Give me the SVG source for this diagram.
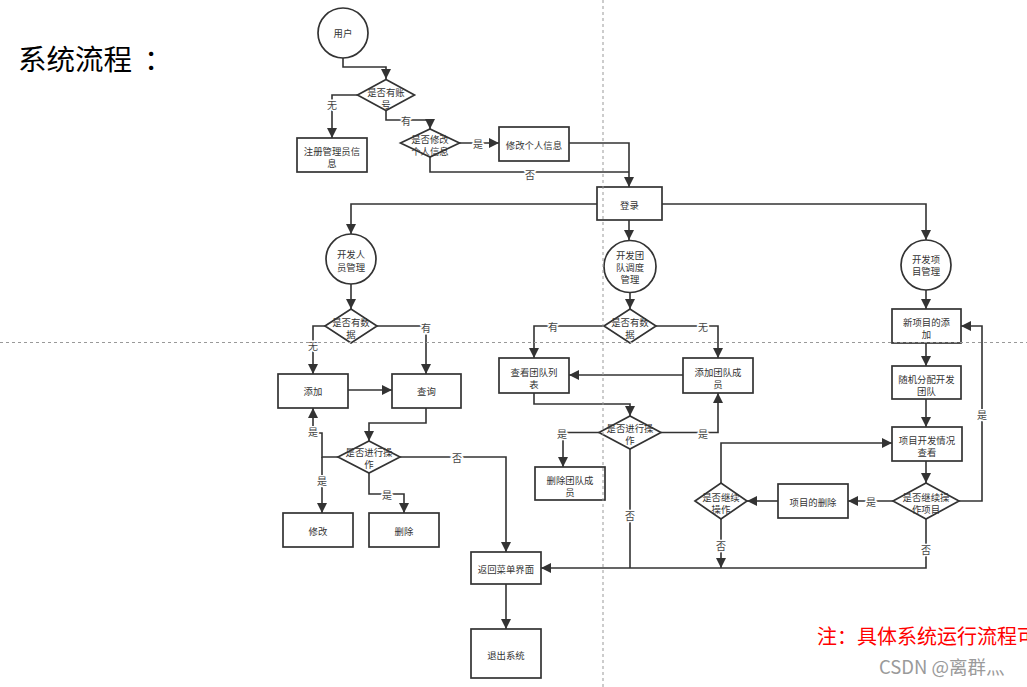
<svg xmlns="http://www.w3.org/2000/svg" width="1027" height="687" viewBox="0 0 1027 687">
<style>
  .box{fill:#fff;stroke:#333;stroke-width:1.7}
  .nd text{font-family:"Noto Sans CJK SC","Noto Sans",sans-serif;font-size:9.4px;fill:#333;text-anchor:middle;dominant-baseline:central}
  .ln{fill:none;stroke:#333;stroke-width:1.6}
  .arr{marker-end:url(#ah)}
  .lbl{font-family:"Noto Sans CJK SC","Noto Sans",sans-serif;font-size:10px;fill:#444;text-anchor:middle;dominant-baseline:central;stroke:#fff;stroke-width:3px;paint-order:stroke}
  .guide{stroke:#999;stroke-width:1;stroke-dasharray:3 3;fill:none}
</style>
<defs>
  <marker id="ah" viewBox="0 0 10 10" refX="10" refY="5" markerWidth="10" markerHeight="10" markerUnits="userSpaceOnUse" orient="auto">
    <path d="M0,0 L10,5 L0,10 z" fill="#333"/>
  </marker>
</defs>
<rect width="1027" height="687" fill="#fff"/>

<text x="18" y="69.5" font-family="'Noto Sans CJK SC',sans-serif" font-size="28.5" fill="#000">系统流程<tspan x="144">：</tspan></text>

<g id="connectors">
  <path class="ln arr" d="M343,58 V67 H386 V79"/>
  <path class="ln arr" d="M358,95 H332 V138"/>
  <path class="ln arr" d="M386,110 V120 H430 V129"/>
  <path class="ln arr" d="M459,143 H499"/>
  <path class="ln arr" d="M569,143 H629 V187"/>
  <path class="ln" d="M430,157 V172 H629"/>
  <path class="ln arr" d="M597,204 H351 V234"/>
  <path class="ln arr" d="M629,220 V240"/>
  <path class="ln arr" d="M662,204 H926 V240"/>
  <path class="ln arr" d="M351,284 V309"/>
  <path class="ln arr" d="M325,326 H313 V374"/>
  <path class="ln arr" d="M377,326 H426 V374"/>
  <path class="ln arr" d="M348,390 H392"/>
  <path class="ln arr" d="M426,408 V423 H369 V441"/>
  <path class="ln arr" d="M338,457 H322 V433 H313 V408"/>
  <path class="ln arr" d="M322,457 V513"/>
  <path class="ln arr" d="M369,473 V494 H404 V513"/>
  <path class="ln arr" d="M400,457 H506 V552"/>
  <path class="ln arr" d="M506,584 V629"/>
  <path class="ln arr" d="M630,293 V309"/>
  <path class="ln arr" d="M604,326 H534 V358"/>
  <path class="ln arr" d="M656,326 H718 V358"/>
  <path class="ln arr" d="M683,375 H569"/>
  <path class="ln arr" d="M534,393 V404 H630 V416"/>
  <path class="ln arr" d="M599,432.5 H563 V467"/>
  <path class="ln arr" d="M661,432.5 H718 V393"/>
  <path class="ln" d="M630,449 V568"/>
  <path class="ln arr" d="M926,290 V309"/>
  <path class="ln arr" d="M926,343 V366"/>
  <path class="ln arr" d="M926,399 V427"/>
  <path class="ln arr" d="M926,461 V483"/>
  <path class="ln arr" d="M959,501 H982 V326 H961"/>
  <path class="ln arr" d="M893,501 H848"/>
  <path class="ln arr" d="M778,501 H747"/>
  <path class="ln arr" d="M721,483 V443 H892"/>
  <path class="ln arr" d="M721,519 V568"/>
  <path class="ln arr" d="M926,519 V568 H541"/>
  <text class="lbl" x="332" y="104">无</text>
  <text class="lbl" x="406" y="120">有</text>
  <text class="lbl" x="478" y="143">是</text>
  <text class="lbl" x="530" y="174">否</text>
  <text class="lbl" x="313" y="345">无</text>
  <text class="lbl" x="426" y="327">有</text>
  <text class="lbl" x="313" y="431">是</text>
  <text class="lbl" x="322" y="480">是</text>
  <text class="lbl" x="387" y="494">是</text>
  <text class="lbl" x="457" y="457">否</text>
  <text class="lbl" x="553" y="326">有</text>
  <text class="lbl" x="703" y="326">无</text>
  <text class="lbl" x="562" y="433">是</text>
  <text class="lbl" x="703" y="433">是</text>
  <text class="lbl" x="630" y="515">否</text>
  <text class="lbl" x="982" y="414">是</text>
  <text class="lbl" x="871" y="501">是</text>
  <text class="lbl" x="721" y="545">否</text>
  <text class="lbl" x="926" y="549">否</text>
</g>

<g id="n-user" class="nd"><circle class="box" cx="343" cy="33" r="25"/><text x="343" y="33">用户</text></g>
<g id="n-has-account" class="nd"><polygon class="box" points="357.5,95 386,79.5 414.5,95 386,110.5"/><text x="386" y="92">是否有账</text><text x="386" y="104">号</text></g>
<g id="n-register" class="nd"><rect class="box" x="297" y="138" width="70" height="34"/><text x="332" y="151">注册管理员信</text><text x="332" y="163">息</text></g>
<g id="n-modify-q" class="nd"><polygon class="box" points="400.5,143 430,129 459.5,143 430,157"/><text x="430" y="139">是否修改</text><text x="430" y="151">个人信息</text></g>
<g id="n-modify" class="nd"><rect class="box" x="499" y="127" width="70" height="34"/><text x="534" y="144.5">修改个人信息</text></g>
<g id="n-login" class="nd"><rect class="box" x="597" y="187" width="65" height="33"/><text x="629.5" y="205">登录</text></g>

<g id="n-dev" class="nd"><circle class="box" cx="351" cy="259" r="25"/><text x="351" y="254">开发人</text><text x="351" y="267">员管理</text></g>
<g id="n-dev-data" class="nd"><polygon class="box" points="325,326 351,309 377,326 351,343"/><text x="351" y="322">是否有数</text><text x="351" y="334">据</text></g>
<g id="n-add" class="nd"><rect class="box" x="278" y="374" width="70" height="34"/><text x="313" y="391">添加</text></g>
<g id="n-query" class="nd"><rect class="box" x="392" y="374" width="69" height="34"/><text x="426.5" y="391">查询</text></g>
<g id="n-dev-op" class="nd"><polygon class="box" points="338,457 369,441 400,457 369,473"/><text x="369" y="451.5">是否进行操</text><text x="369" y="463.5">作</text></g>
<g id="n-edit" class="nd"><rect class="box" x="283" y="513" width="70" height="34"/><text x="318" y="531">修改</text></g>
<g id="n-delete" class="nd"><rect class="box" x="369" y="513" width="70" height="34"/><text x="404" y="531">删除</text></g>
<g id="n-back" class="nd"><rect class="box" x="471" y="552" width="70" height="32"/><text x="506" y="569">返回菜单界面</text></g>
<g id="n-exit" class="nd"><rect class="box" x="471" y="629" width="70" height="49"/><text x="506" y="655">退出系统</text></g>

<g id="n-team" class="nd"><circle class="box" cx="630" cy="266.5" r="26"/><text x="630" y="255">开发团</text><text x="630" y="267">队调度</text><text x="630" y="279">管理</text></g>
<g id="n-team-data" class="nd"><polygon class="box" points="604,326 630,309 656,326 630,343"/><text x="630" y="322">是否有数</text><text x="630" y="334">据</text></g>
<g id="n-team-list" class="nd"><rect class="box" x="499" y="358" width="70" height="35"/><text x="534" y="372">查看团队列</text><text x="534" y="384">表</text></g>
<g id="n-team-add" class="nd"><rect class="box" x="683" y="358" width="70" height="35"/><text x="718" y="372">添加团队成</text><text x="718" y="384">员</text></g>
<g id="n-team-op" class="nd"><polygon class="box" points="599,432.5 630,416 661,432.5 630,449"/><text x="630" y="428">是否进行操</text><text x="630" y="440">作</text></g>
<g id="n-team-del" class="nd"><rect class="box" x="535" y="467" width="70" height="33"/><text x="570" y="480">删除团队成</text><text x="570" y="492">员</text></g>

<g id="n-proj" class="nd"><circle class="box" cx="926" cy="265" r="25"/><text x="926" y="259">开发项</text><text x="926" y="271">目管理</text></g>
<g id="n-proj-new" class="nd"><rect class="box" x="892" y="309" width="69" height="34"/><text x="926.5" y="322">新项目的添</text><text x="926.5" y="334">加</text></g>
<g id="n-proj-assign" class="nd"><rect class="box" x="892" y="366" width="69" height="33"/><text x="926.5" y="379">随机分配开发</text><text x="926.5" y="391">团队</text></g>
<g id="n-proj-view" class="nd"><rect class="box" x="892" y="427" width="70" height="34"/><text x="927" y="440">项目开发情况</text><text x="927" y="452">查看</text></g>
<g id="n-proj-cont" class="nd"><polygon class="box" points="893,501 926,483 959,501 926,519"/><text x="926" y="497">是否继续操</text><text x="926" y="509">作项目</text></g>
<g id="n-proj-del" class="nd"><rect class="box" x="778" y="484" width="70" height="34"/><text x="813" y="502">项目的删除</text></g>
<g id="n-cont" class="nd"><polygon class="box" points="695,501 721,483 747,501 721,519"/><text x="721" y="497">是否继续</text><text x="721" y="509">操作</text></g>

<line class="guide" x1="603" y1="0" x2="603" y2="687"/>
<line class="guide" x1="0" y1="342.5" x2="1027" y2="342.5"/>

<text x="817" y="644" font-family="'Noto Sans CJK SC',sans-serif" font-size="20" fill="#f00">注：具体系统运行流程可</text>
<text x="879" y="674" font-family="'Noto Sans CJK SC','Noto Sans',sans-serif" font-size="18.5" fill="#9a9a9a">CSDN @离群灬</text>
</svg>
